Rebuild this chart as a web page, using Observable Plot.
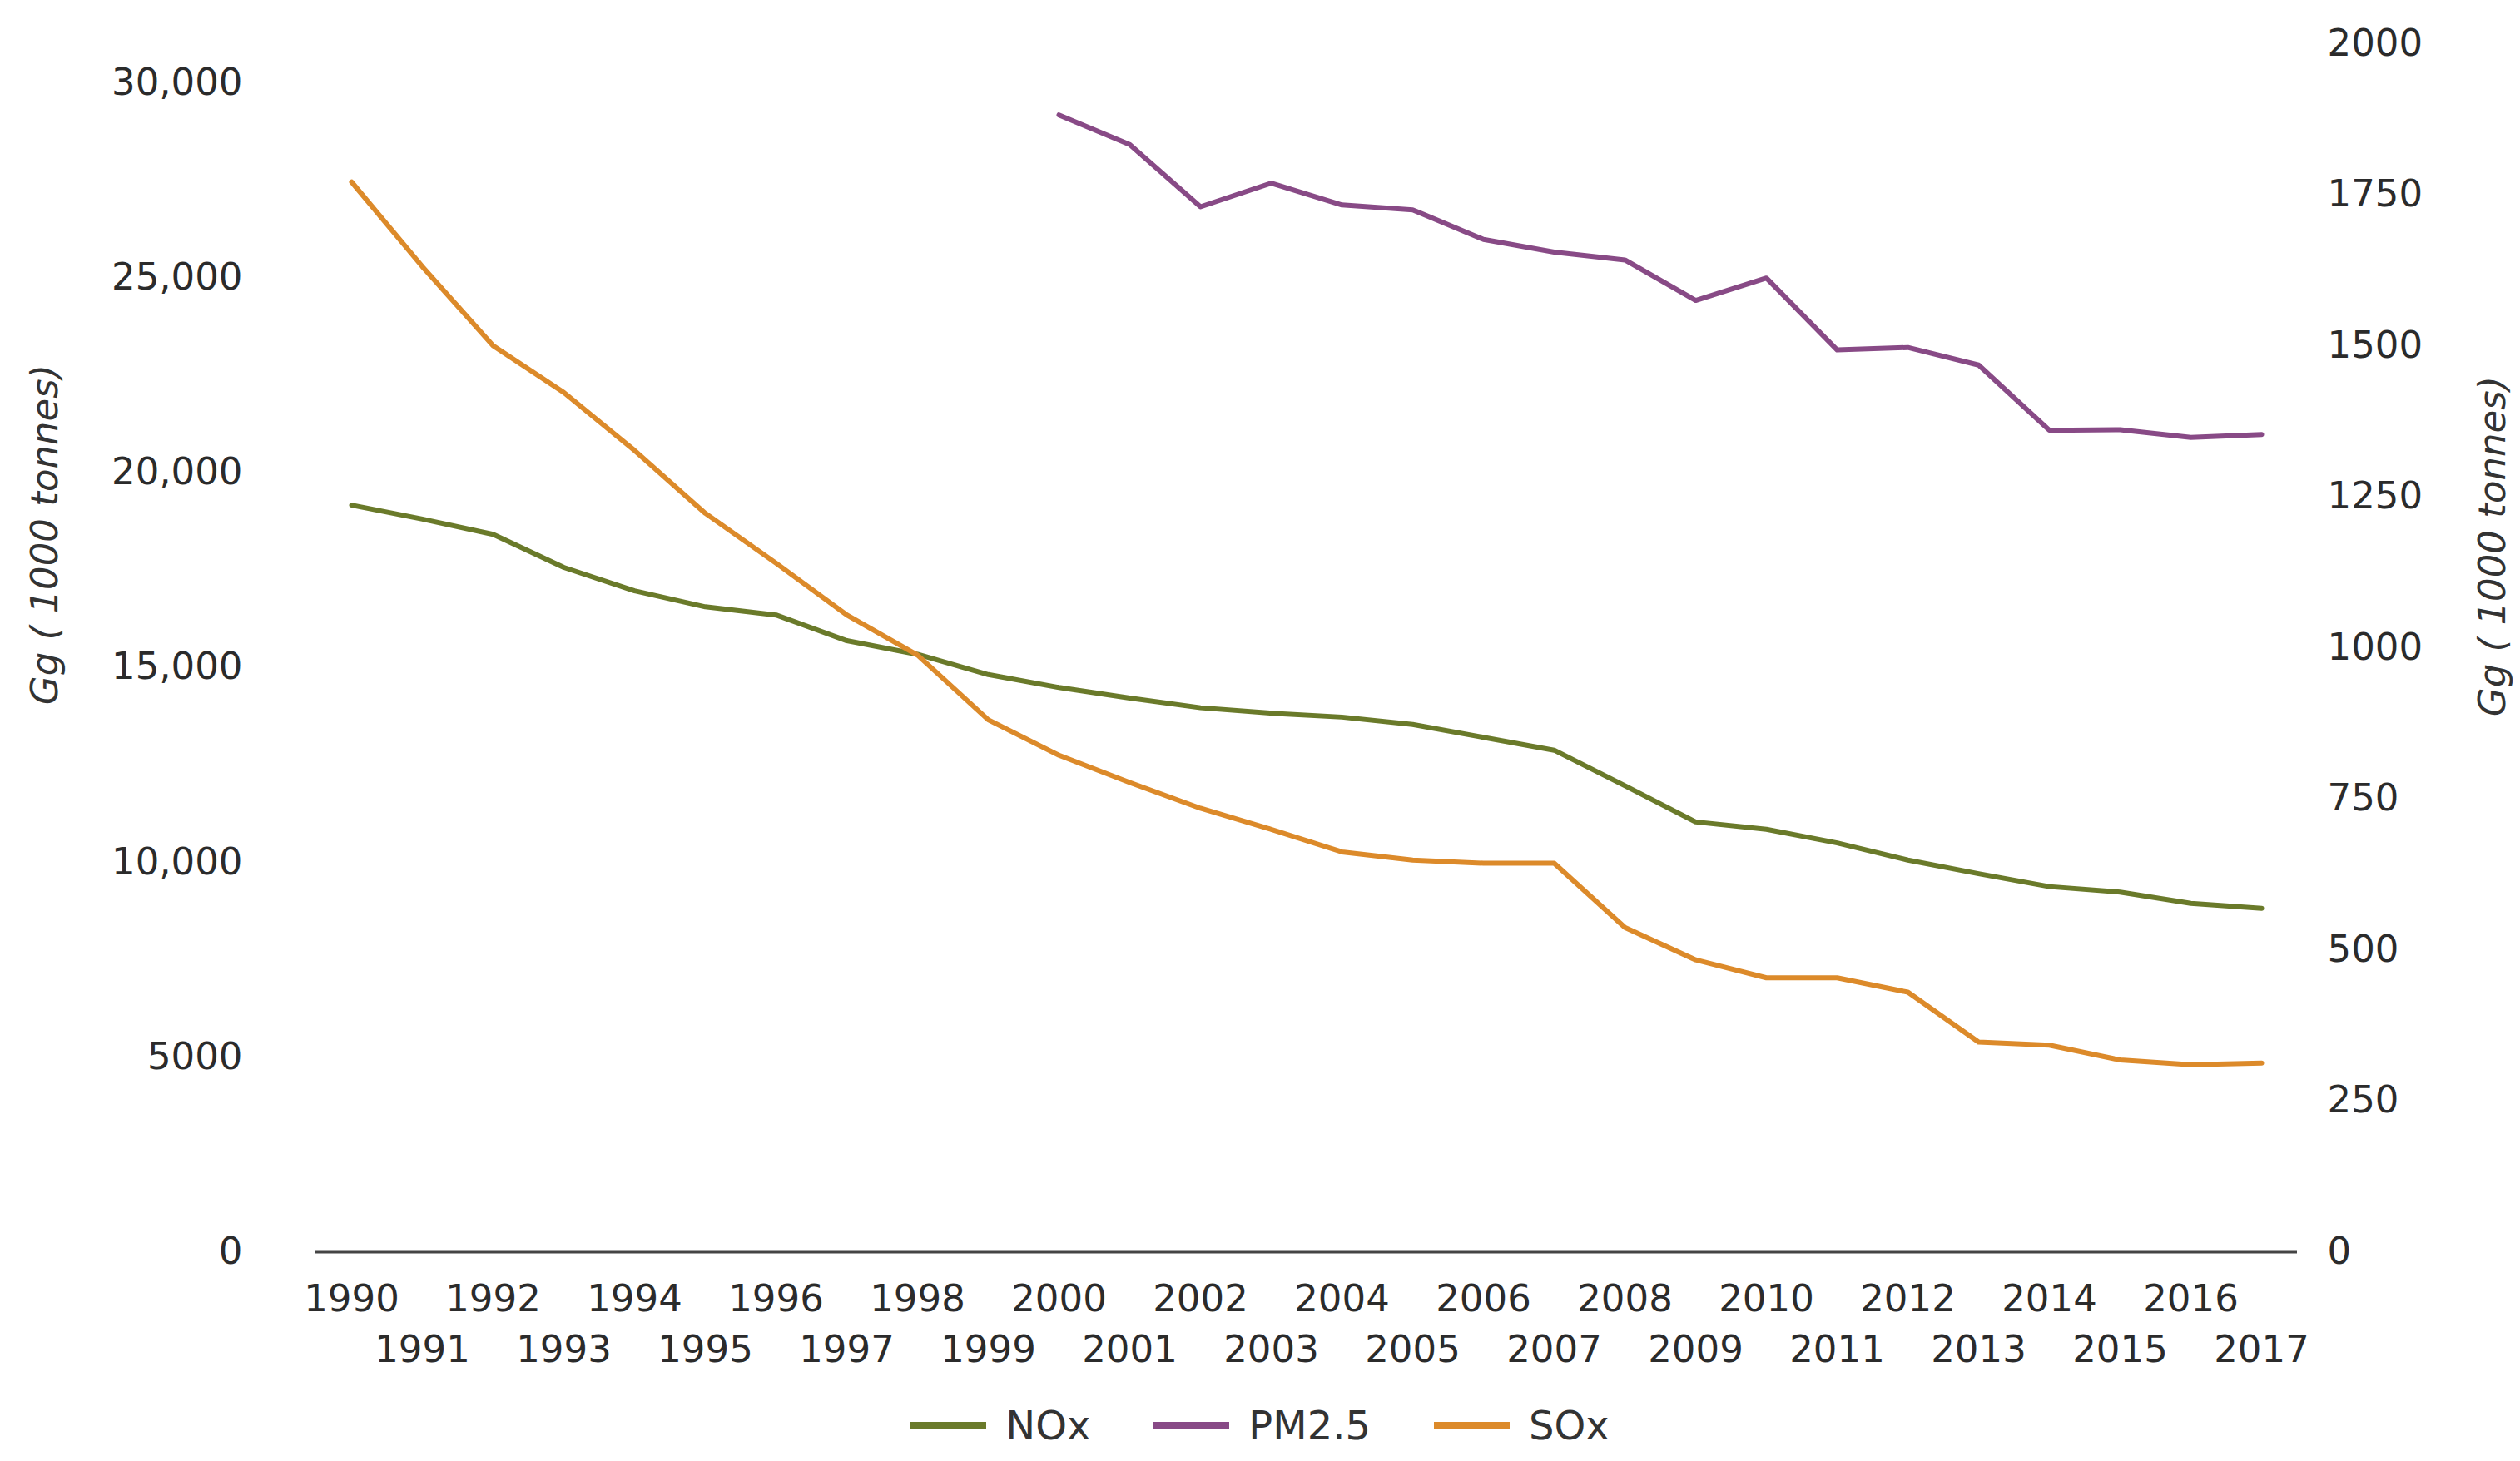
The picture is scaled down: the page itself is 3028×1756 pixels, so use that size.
<!DOCTYPE html>
<html>
<head>
<meta charset="utf-8">
<script src="https://cdn.jsdelivr.net/npm/d3@7"></script>
<script src="https://cdn.jsdelivr.net/npm/@observablehq/plot@0.6"></script>
<style>
html, body { margin: 0; padding: 0; background: #fff; }
#chart { width: 3028px; }
.legend { display: flex; justify-content: center; align-items: center; height: 66px;
  font-family: "DejaVu Sans", Verdana, sans-serif; font-size: 48px; color: #333; }
.item { display: flex; align-items: center; margin: 0 38px; }
.sw { width: 91px; height: 8px; margin-right: 23px; }
</style>
</head>
<body>
<div id="chart"></div>
<script>
// ---- data ----
const years = [1990,1991,1992,1993,1994,1995,1996,1997,1998,1999,2000,2001,2002,2003,
               2004,2005,2006,2007,2008,2009,2010,2011,2012,2013,2014,2015,2016,2017];
const nox = [19160,18800,18410,17560,16960,16550,16340,15680,15330,14810,14480,14210,13960,13820,
             13720,13530,13200,12870,11960,11030,10840,10490,10050,9700,9370,9230,8940,8810];
const sox = [27450,25280,23250,22050,20560,18950,17670,16340,15310,13650,12740,12040,11380,10840,
             10260,10050,9970,9970,8320,7490,7030,7030,6660,5380,5300,4920,4800,4840];
const pm25Years = [2000,2001,2002,2003,2004,2005,2006,2007,2008,2009,2010,2011,2012,2013,2014,2015,2016,2017];
const pm25 = [1882,1833,1730,1769,1733,1725,1676,1655,1642,1575,1612,1493,1497,1468,1360,1361,1348,1353];
const seriesNames = ["NOx", "PM2.5", "SOx"];
const seriesColors = ["#6a7a2a", "#884a86", "#dc8a2a"];
const leftTicks = [0, 5000, 10000, 15000, 20000, 25000, 30000];
const rightTicks = [0, 250, 500, 750, 1000, 1250, 1500, 1750, 2000];
const axisTitle = "Gg ( 1000 tonnes)";

// right axis (PM2.5) is drawn on the left scale, multiplied by this ratio
const k = 15.5;

const rows = [];
years.forEach((yr, i) => {
  rows.push({year: yr, series: "NOx", v: nox[i]});
  rows.push({year: yr, series: "SOx", v: sox[i]});
});
pm25Years.forEach((yr, i) => rows.push({year: yr, series: "PM2.5", v: pm25[i] * k}));

const fmtLeft = d => d >= 10000 ? d3.format(",")(d) : String(d);
const font = "'DejaVu Sans', Verdana, sans-serif";

const svg = Plot.plot({
  width: 3028,
  height: 1680,
  marginLeft: 378,
  marginRight: 268,
  marginTop: 52,
  marginBottom: 176,
  style: {fontFamily: font, fontSize: "45px", color: "#2b2b2b", background: "#fff"},
  x: {type: "point", domain: years, padding: 0.5},
  y: {domain: [0, 31000]},
  color: {domain: seriesNames, range: seriesColors},
  marks: [
    Plot.axisY({anchor: "left", ticks: leftTicks, tickSize: 0, tickPadding: 87,
                tickFormat: fmtLeft, label: null, fontSize: 45}),
    Plot.axisY({anchor: "right", ticks: rightTicks.map(v => v * k), tickSize: 0, tickPadding: 36,
                tickFormat: d => String(Math.round(d / k)), label: null, fontSize: 45}),
    Plot.axisX({ticks: years.filter(y => y % 2 === 0), tickSize: 0, tickPadding: 40,
                tickFormat: d => String(d), label: null, fontSize: 45}),
    Plot.axisX({ticks: years.filter(y => y % 2 === 1), tickSize: 0, tickPadding: 101,
                tickFormat: d => String(d), label: null, fontSize: 45}),
    Plot.ruleY([0], {stroke: "#444", strokeWidth: 4}),
    Plot.line(rows, {x: "year", y: "v", z: "series", stroke: "series", strokeWidth: 6}),
    Plot.text([axisTitle], {frameAnchor: "left", textAnchor: "middle", rotate: -90, dx: -324, dy: -136,
                            fontStyle: "italic", fontSize: 45, fill: "#333"}),
    Plot.text([axisTitle], {frameAnchor: "right", textAnchor: "middle", rotate: -90, dx: 235, dy: -122,
                            fontStyle: "italic", fontSize: 45, fill: "#333"})
  ]
});
document.getElementById("chart").appendChild(svg);

const legend = document.createElement("div");
legend.className = "legend";
seriesNames.forEach((name, i) => {
  const item = document.createElement("div");
  item.className = "item";
  const sw = document.createElement("span");
  sw.className = "sw";
  sw.style.background = seriesColors[i];
  const label = document.createElement("span");
  label.textContent = name;
  item.appendChild(sw);
  item.appendChild(label);
  legend.appendChild(item);
});
document.getElementById("chart").appendChild(legend);
</script>
</body>
</html>
